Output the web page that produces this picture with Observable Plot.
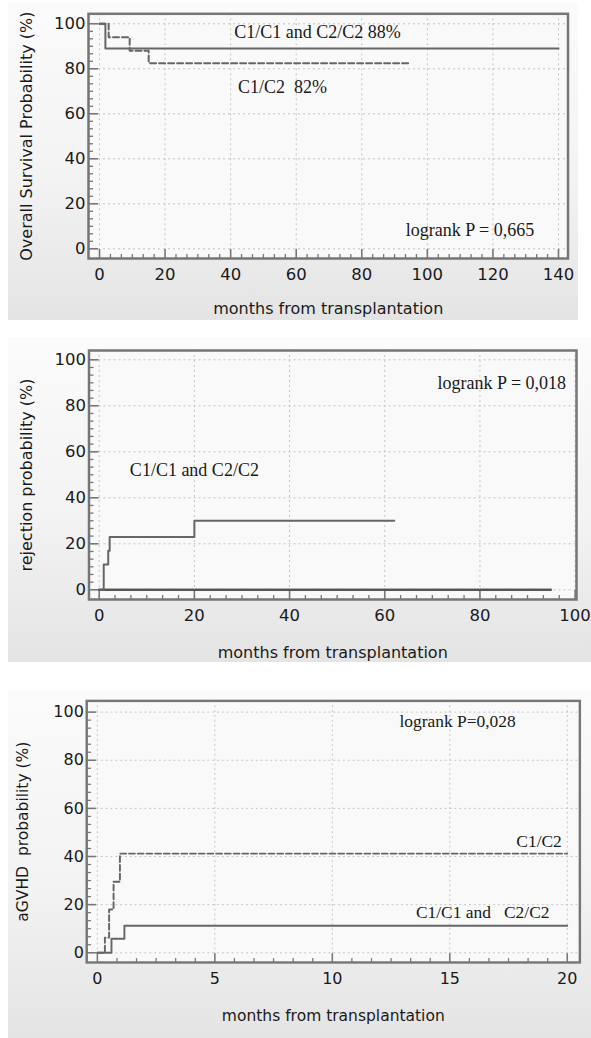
<!DOCTYPE html>
<html>
<head>
<meta charset="utf-8">
<script src="https://cdn.jsdelivr.net/npm/d3@7"></script>
<script src="https://cdn.jsdelivr.net/npm/@observablehq/plot@0.6"></script>
<style>
  html, body { margin: 0; padding: 0; background: #fff; }
  body { position: relative; width: 591px; height: 1038px; overflow: hidden; }
  .bg { position: absolute; background: linear-gradient(to bottom, #fbfbfb 0%, #f3f3f3 55%, #e4e4e4 100%); }
  .chart { position: absolute; left: 0; }
  .chart svg { display: block; }
</style>
</head>
<body>
<div class="bg" style="left:8px;top:2px;width:570px;height:318px"></div>
<div class="bg" style="left:8px;top:337px;width:583px;height:325px"></div>
<div class="bg" style="left:8px;top:690px;width:583px;height:348px"></div>
<div id="c1" class="chart" style="top:0px"></div>
<div id="c2" class="chart" style="top:330px"></div>
<div id="c3" class="chart" style="top:660px"></div>
<script>
// ---------- Panel 1: overall survival ----------
const osMonthsHomo = [0, 1.8, 140];
const osProbHomo   = [100, 89, 89];
const osMonthsHet  = [0, 2.8, 9.2, 15, 95];
const osProbHet    = [100, 94, 88, 82.5, 82.5];
const osXTicks = [0, 20, 40, 60, 80, 100, 120, 140];
const osYTicks = [0, 20, 40, 60, 80, 100];
const osNoteText = ["C1/C1 and C2/C2 88%", "C1/C2\u00a0 82%", "logrank P = 0,665"];
const osNoteX = [66.5, 55.8, 113];
const osNoteY = [96.3, 71.7, 8.1];

// ---------- Panel 2: rejection ----------
const rejMonthsHomo = [0, 0.95, 1.9, 2.2, 20, 62];
const rejProbHomo   = [0, 11, 17, 23, 30, 30];
const rejMonthsHet  = [0, 95];
const rejProbHet    = [0, 0];
const rejXTicks = [0, 20, 40, 60, 80, 100];
const rejYTicks = [0, 20, 40, 60, 80, 100];
const rejNoteText = ["logrank P = 0,018", "C1/C1 and C2/C2"];
const rejNoteX = [84.6, 20];
const rejNoteY = [89.7, 51.9];

// ---------- Panel 3: aGVHD ----------
const gvhdMonthsHomo = [0, 0.6, 1.15, 20];
const gvhdProbHomo   = [0, 5.8, 11.2, 11.2];
const gvhdMonthsHet  = [0, 0.32, 0.5, 0.69, 0.96, 20];
const gvhdProbHet    = [0, 6.3, 18, 29.5, 41.2, 41.2];
const gvhdXTicks = [0, 5, 10, 15, 20];
const gvhdYTicks = [0, 20, 40, 60, 80, 100];
const gvhdNoteText = ["logrank P=0,028", "C1/C2", "C1/C1 and\u00a0\u00a0 C2/C2"];
const gvhdNoteX = [15.33, 18.8, 16.4];
const gvhdNoteY = [96.1, 46.3, 16.8];

const xTitle = "months from transplantation";

function toRows(xs, ys) { return xs.map((x, i) => ({x, y: ys[i]})); }
function minorOf(ticks) {
  const out = [];
  for (let i = 0; i < ticks.length - 1; i++) {
    const step = (ticks[i + 1] - ticks[i]) / 6;
    for (let k = 1; k < 6; k++) out.push(ticks[i] + k * step);
  }
  return out;
}

function panel(o) {
  const pw = o.width - o.ml - o.mr;
  const ph = o.height - o.mt - o.mb;
  const kx = (o.xDomain[1] - o.xDomain[0]) / pw; // data units per px
  const ky = (o.yDomain[1] - o.yDomain[0]) / ph;
  const x0 = o.xDomain[0], y0 = o.yDomain[0];
  const xMinor = minorOf(o.xTicks), yMinor = minorOf(o.yTicks);
  const line = "#666";
  const notes = o.noteText.map((t, i) => ({t, x: o.noteX[i], y: o.noteY[i]}));
  const marks = [
    Plot.frame({fill: "#f9f9f9", stroke: null}),
    Plot.ruleX(o.xTicks, {stroke: "#c4c4c4", strokeDasharray: "2,3", strokeWidth: 1}),
    Plot.ruleY(o.yTicks, {stroke: "#c4c4c4", strokeDasharray: "2,3", strokeWidth: 1}),
    // tick marks drawn inside the frame
    Plot.ruleX(xMinor, {y1: y0, y2: y0 + 4 * ky, stroke: "#777", strokeWidth: 1.3}),
    Plot.ruleX(o.xTicks, {y1: y0, y2: y0 + 9 * ky, stroke: "#777", strokeWidth: 1.6}),
    Plot.ruleY(yMinor, {x1: x0, x2: x0 + 5 * kx, stroke: "#777", strokeWidth: 1.3}),
    Plot.ruleY(o.yTicks, {x1: x0, x2: x0 + 10 * kx, stroke: "#777", strokeWidth: 1.6}),
    Plot.axisX({ticks: o.xTicks, tickSize: 0, tickPadding: 10, label: null, fontSize: 16.5, fill: "#1a1a1a"}),
    Plot.axisY({ticks: o.yTicks, tickSize: 0, tickPadding: 3, label: null, fontSize: 16.5, fill: "#1a1a1a"}),
    Plot.text([xTitle], {text: d => d, frameAnchor: "bottom", dy: o.xTitleDy, lineAnchor: "middle", fontSize: 16, fill: "#1a1a1a"}),
    Plot.text([o.yTitle], {text: d => d, frameAnchor: "left", dx: o.yTitleDx, rotate: -90, textAnchor: "middle", lineAnchor: "middle", fontSize: 16, fill: "#1a1a1a"}),
    Plot.text(notes, {x: "x", y: "y", text: "t", fontFamily: "Liberation Serif", fontSize: 18, fill: "#1a1a1a", textAnchor: "middle", lineAnchor: "middle"}),
  ];
  for (const s of o.series) {
    marks.push(Plot.line(toRows(s.xs, s.ys), {x: "x", y: "y", curve: "step-after", stroke: s.color || line, strokeWidth: s.width || 2, strokeDasharray: s.dash || null}));
  }
  marks.push(Plot.frame({stroke: "#767676", strokeWidth: 2.5}));
  return Plot.plot({
    width: o.width, height: o.height,
    marginTop: o.mt, marginBottom: o.mb, marginLeft: o.ml, marginRight: o.mr,
    x: {domain: o.xDomain}, y: {domain: o.yDomain},
    style: {background: "transparent", fontFamily: "DejaVu Sans", overflow: "visible"},
    marks
  });
}

document.getElementById("c1").append(panel({
  width: 591, height: 320, mt: 13.3, mb: 62, ml: 88, mr: 23.5,
  xDomain: [-3.355, 142.9], yDomain: [-4.31, 104.44],
  xTicks: osXTicks, yTicks: osYTicks,
  yTitle: "Overall Survival Probability (%)", yTitleDx: -61.5, xTitleDy: 50,
  noteText: osNoteText, noteX: osNoteX, noteY: osNoteY,
  series: [
    {xs: osMonthsHomo, ys: osProbHomo},
    {xs: osMonthsHet, ys: osProbHet, dash: "6,3"}
  ]
}));

document.getElementById("c2").append(panel({
  width: 591, height: 335, mt: 20, mb: 66, ml: 88.5, mr: 15,
  xDomain: [-2.14, 100.29], yDomain: [-4.22, 104.04],
  xTicks: rejXTicks, yTicks: rejYTicks,
  yTitle: "rejection probability (%)", yTitleDx: -62, xTitleDy: 53,
  noteText: rejNoteText, noteX: rejNoteX, noteY: rejNoteY,
  series: [
    {xs: rejMonthsHet, ys: rejProbHet, dash: "1.5,1.5", width: 2.6, color: "#555"},
    {xs: rejMonthsHomo, ys: rejProbHomo}
  ]
}));

document.getElementById("c3").append(panel({
  width: 610, height: 378, mt: 41.7, mb: 66.3, ml: 89, mr: 12,
  xDomain: [-0.4536, 20.536], yDomain: [-4.03, 104.67],
  xTicks: gvhdXTicks, yTicks: gvhdYTicks,
  yTitle: "aGVHD\u00a0 probability (%)", yTitleDx: -66, xTitleDy: 55,
  noteText: gvhdNoteText, noteX: gvhdNoteX, noteY: gvhdNoteY,
  series: [
    {xs: gvhdMonthsHomo, ys: gvhdProbHomo},
    {xs: gvhdMonthsHet, ys: gvhdProbHet, dash: "6,3"}
  ]
}));
</script>
</body>
</html>
